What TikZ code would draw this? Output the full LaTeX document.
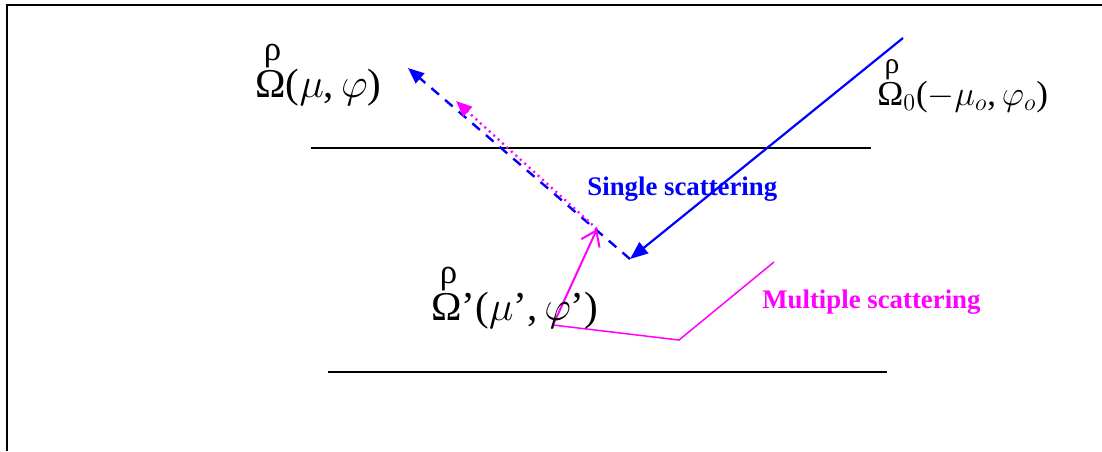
\documentclass[tikz,border=0pt]{standalone}
\usepackage{fontspec}
\setmainfont{Liberation Serif}
\usepackage{tikz}
\usetikzlibrary{arrows.meta}
\definecolor{rayblue}{RGB}{0,0,255}
\definecolor{raymag}{RGB}{255,0,255}
% direction vector: Omega with the hook above it
\newcommand{\dirO}{\ooalign{Ω\cr\hidewidth\kern0.1em\raisebox{0.9em}{\scalebox{0.85}{ρ}}\hidewidth\cr}}
\newcommand{\pr}{\symbol{"27}}

\begin{document}
\begin{tikzpicture}[x=0.5pt,y=-0.5pt,
    layer/.style={line width=1pt},
    lbl/.style={font=\fontsize{13.4}{16}\selectfont\bfseries, inner sep=0pt, anchor=base west}]
  \useasboundingbox (0,0) rectangle (1102,451);
  \draw[line width=1pt] (6.5,451) -- (6.5,5) -- (1102,5);
  % layer boundaries
  \draw[layer] (311,148) -- (871,148);
  \draw[layer] (328,372) -- (887,372);
  % points of the rays
  \coordinate (sun) at (903,38);
  \coordinate (hit) at (630,259);
  \coordinate (view) at (408,68);
  \coordinate (mfrom) at (553,325);
  \coordinate (mhit) at (597,229);
  \coordinate (mview) at (456,101);
  \coordinate (mbend) at (679,340);
  \coordinate (mend) at (774,262);
  % single scattering
  \draw[rayblue, line width=1.1pt, -{Triangle[length=9pt,width=7pt]}] (sun) -- (hit);
  \draw[rayblue, line width=1.2pt, dash pattern=on 5pt off 4pt, -{Triangle[length=8pt,width=6.5pt]}] (hit) -- (view);
  % multiple scattering
  \draw[raymag, line width=1.2pt, dash pattern=on 1pt off 2pt, -{Triangle[length=8pt,width=6.5pt]}] (mhit) -- (mview);
  \draw[raymag, line width=1pt, -{Straight Barb[length=7pt,width=10pt]}] (mfrom) -- (mhit);
  \draw[raymag, line width=0.75pt] (mfrom) -- (mbend) -- (mend);
  % labels
  \node[lbl, text=rayblue] (single) at (587,195) {Single scattering};
  \node[lbl, text=raymag] (multi) at (762,308) {Multiple scattering};
  \node[inner sep=0pt, anchor=base west, font=\fontsize{20.5}{24}\selectfont] (omega) at (255,97)
    {\dirO($\mu$,\,$\varphi$)};
  \node[inner sep=0pt, anchor=base west, font=\fontsize{17.5}{21}\selectfont] (omega0) at (877,105)
    {\dirO$_0$($-\mu_o$,\,$\varphi_o$)};
  \node[inner sep=0pt, anchor=base west, font=\fontsize{20.5}{24}\selectfont] (omegap) at (431,320)
    {\dirO\pr($\mu$\pr,\,$\varphi$\pr)};
\end{tikzpicture}
\end{document}
